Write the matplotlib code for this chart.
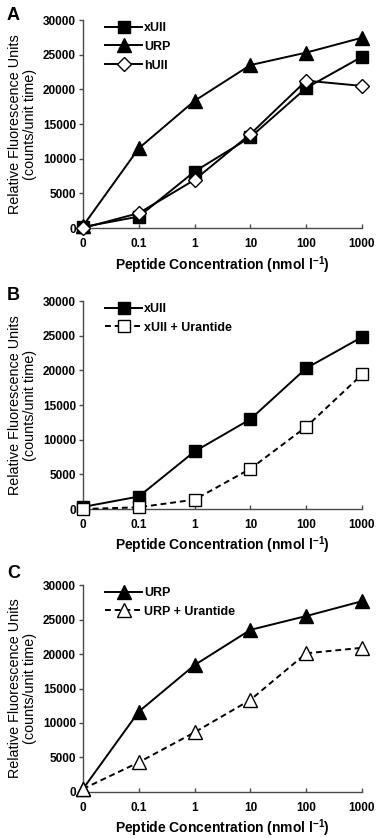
"""
Three-panel dose-response chart: fluorescence vs peptide concentration.
"""
import matplotlib
matplotlib.use("Agg")
import matplotlib.pyplot as plt

plt.rcParams["font.family"] = ["Liberation Sans", "DejaVu Sans"]
plt.rcParams["mathtext.fontset"] = "custom"
plt.rcParams["mathtext.bf"] = "Liberation Sans:bold"

conc_labels = ["0", "0.1", "1", "10", "100", "1000"]

# panel A
xuii = [150, 1650, 8150, 13100, 20200, 24700]
urp = [300, 11500, 18350, 23500, 25300, 27450]
huii = [0, 2150, 6950, 13550, 21250, 20500]

# panel B
xuii_b = [300, 1800, 8300, 12950, 20300, 24800]
xuii_urantide = [0, 250, 1350, 5800, 11850, 19400]

# panel C
urp_c = [450, 11650, 18400, 23500, 25500, 27650]
urp_urantide = [450, 4300, 8650, 13350, 20100, 20900]

AX_GRAY = "#4a4a4a"
TICK_SIZE = 8.5
LEG_SIZE = 9


def style_axes(ax):
    ax.set_xlim(0, 5)
    ax.set_ylim(0, 30000)
    ax.set_xticks(range(len(conc_labels)))
    ax.set_xticklabels(conc_labels)
    ax.set_yticks(range(0, 30001, 5000))
    ax.set_yticklabels([str(v) for v in range(0, 30001, 5000)])
    for side in ("top", "right"):
        ax.spines[side].set_visible(False)
    for side in ("left", "bottom"):
        ax.spines[side].set_color(AX_GRAY)
        ax.spines[side].set_linewidth(1.0)
    ax.tick_params(axis="x", direction="in", length=3, width=1.0, color=AX_GRAY, pad=7)
    ax.tick_params(axis="y", direction="out", length=3, width=1.0, color=AX_GRAY, pad=2)
    for lbl in ax.get_xticklabels() + ax.get_yticklabels():
        lbl.set_fontsize(TICK_SIZE)
        lbl.set_fontweight("bold")
    ax.set_xlabel("Peptide Concentration (nmol l$^{\\mathbf{-1}}$)", fontsize=10,
                  fontweight="bold", labelpad=3)
    ax.set_ylabel("Relative Fluorescence Units\n(counts/unit time)", fontsize=10.4,
                  linespacing=1.1, labelpad=4)


def legend(ax):
    ax.legend(loc="upper left", bbox_to_anchor=(0.04, 1.045), frameon=False,
              handlelength=2.9, handletextpad=0.2, labelspacing=0.55,
              prop={"weight": "bold", "size": LEG_SIZE})


fig = plt.figure(figsize=(3.78, 8.38), dpi=100)
ax_a = fig.add_axes([0.2196, 0.7279, 0.738, 0.2482])
ax_b = fig.add_axes([0.2196, 0.3926, 0.738, 0.2482])
ax_c = fig.add_axes([0.2196, 0.0549, 0.738, 0.2470])

x = list(range(len(conc_labels)))
common = dict(color="black", lw=1.4, clip_on=False, zorder=3)

ax_a.plot(x, xuii, marker="s", ms=9, mfc="black", mec="black", label="xUII", **common)
ax_a.plot(x, urp, marker="^", ms=10.5, mfc="black", mec="black", label="URP", **common)
ax_a.plot(x, huii, marker="D", ms=7.5, mfc="white", mec="black", mew=1.0, label="hUII", **common)

ax_b.plot(x, xuii_b, marker="s", ms=9, mfc="black", mec="black", label="xUII", **common)
ax_b.plot(x, xuii_urantide, marker="s", ms=9, mfc="white", mec="black", mew=1.0,
          ls=(0, (3, 2)), label="xUII + Urantide", **common)

ax_c.plot(x, urp_c, marker="^", ms=10.5, mfc="black", mec="black", label="URP", **common)
ax_c.plot(x, urp_urantide, marker="^", ms=10.5, mfc="white", mec="black", mew=1.0,
          ls=(0, (3, 2)), label="URP + Urantide", **common)

for ax in (ax_a, ax_b, ax_c):
    style_axes(ax)
    legend(ax)

for letter, ypos in (("A", 0.992), ("B", 0.658), ("C", 0.326)):
    fig.text(0.018, ypos, letter, fontsize=13, fontweight="bold", va="top", ha="left")

fig.savefig("out.png", dpi=100)
